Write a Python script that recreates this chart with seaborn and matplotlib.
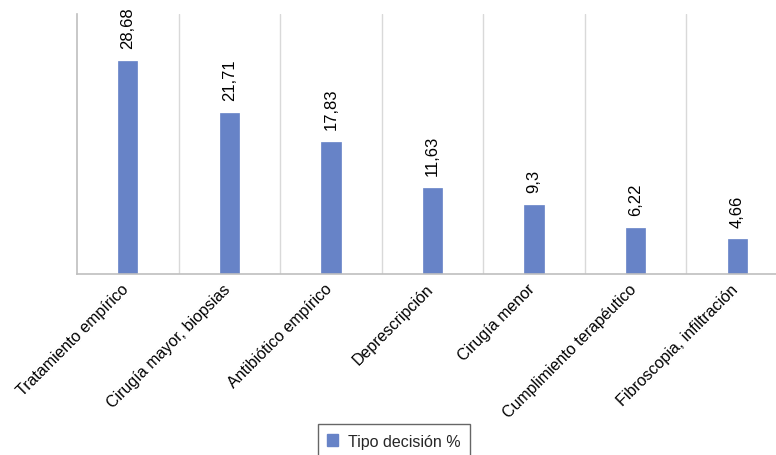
import matplotlib
matplotlib.use("Agg")
import matplotlib.pyplot as plt
import matplotlib.transforms as mtransforms
import seaborn as sns
import pandas as pd
import numpy as np
from matplotlib.ticker import FixedLocator
from matplotlib.patches import Patch

categories = ["Tratamiento empírico", "Cirugía mayor, biopsias", "Antibiótico empírico",
              "Deprescripción", "Cirugía menor", "Cumplimiento terapéutico",
              "Fibroscopia, infiltración"]
values = [28.68, 21.71, 17.83, 11.63, 9.3, 6.22, 4.66]
labels = ["28,68", "21,71", "17,83", "11,63", "9,3", "6,22", "4,66"]
series_name = "Tipo decisión %"

sns.set_style("white")
plt.rcParams['font.family'] = ['Liberation Sans', 'DejaVu Sans']

df = pd.DataFrame({"cat": categories, "val": values})

fig = plt.figure(figsize=(7.76, 4.56), dpi=100)
ax = fig.add_axes([77/776, 1 - 275/456, 711/776, 260/456])

bar_color = "#6783C7"
sns.barplot(data=df, x="cat", y="val", color=bar_color, width=0.19, ax=ax,
            saturation=1, edgecolor=bar_color, linewidth=0.5)

ax.set_xlim(-0.5, len(categories) - 0.5)
ax.set_ylim(0, 35)
ax.set_yticks([])
ax.set_xlabel("")
ax.set_ylabel("")

ax.xaxis.set_minor_locator(FixedLocator(np.arange(0.5, len(categories) - 0.5, 1)))
ax.grid(which="minor", axis="x", color="#D9D9D9", linewidth=1)
ax.tick_params(axis="x", which="both", length=0, pad=5)
ax.set_xticks(range(len(categories)))
ax.set_xticklabels(categories, rotation=45, ha="right", rotation_mode="anchor",
                   fontsize=11.5, color="#000000")
offset = mtransforms.ScaledTranslation(-7/100, 0/100, fig.dpi_scale_trans)
for t in ax.get_xticklabels():
    t.set_transform(t.get_transform() + offset)

for s in ["top", "right"]:
    ax.spines[s].set_visible(False)
for s in ["left", "bottom"]:
    ax.spines[s].set_color("#BFBFBF")
    ax.spines[s].set_linewidth(1.2)

for i, (v, lab) in enumerate(zip(values, labels)):
    ax.annotate(lab, (i, v), xytext=(0, 9), textcoords="offset points",
                rotation=90, ha="center", va="bottom", fontsize=12, color="#000000")

handles = [Patch(facecolor=bar_color, edgecolor=bar_color, label=series_name)]
leg = fig.legend(handles=handles, loc="upper center", bbox_to_anchor=(394/776, 1 - 425/456),
                 frameon=True, fancybox=False, fontsize=11.5, handlelength=0.7,
                 handleheight=0.7, borderpad=0.6, handletextpad=0.6, borderaxespad=0)
leg.get_frame().set_edgecolor("#404040")
leg.get_frame().set_linewidth(1)

fig.savefig("out.png", dpi=100)
